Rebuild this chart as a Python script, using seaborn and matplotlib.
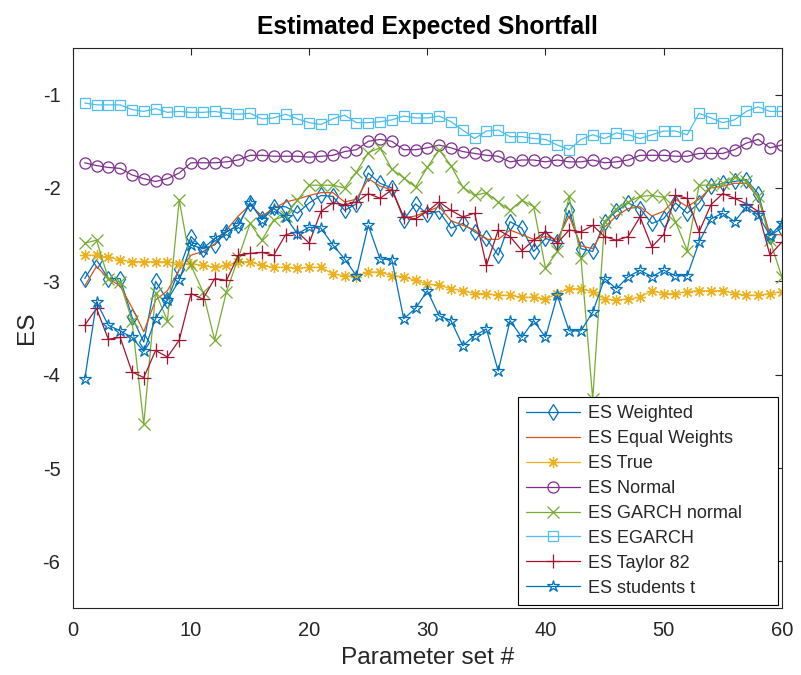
import numpy as np
import pandas as pd
import matplotlib
matplotlib.use("Agg")
import matplotlib.pyplot as plt
import seaborn as sns

# Data (60 parameter sets)
param_set = list(range(1, 61))

es_weighted = [-2.97, -2.77, -2.97, -2.97, -3.38, -3.65, -3.00, -3.20, -2.87, -2.52,
               -2.65, -2.61, -2.47, -2.40, -2.16, -2.33, -2.20, -2.20, -2.27, -2.16,
               -2.08, -2.09, -2.24, -2.17, -1.84, -1.95, -2.00, -2.34, -2.17, -2.28,
               -2.25, -2.43, -2.38, -2.47, -2.54, -2.72, -2.36, -2.43, -2.68, -2.54,
               -2.58, -2.24, -2.65, -2.68, -2.36, -2.25, -2.16, -2.22, -2.38, -2.33,
               -2.16, -2.27, -2.16, -1.98, -1.95, -1.93, -1.91, -2.06, -2.51, -2.43]

es_equal = [-3.05, -2.84, -2.97, -3.05, -3.28, -3.54, -3.20, -3.10, -2.88, -2.72,
            -2.68, -2.60, -2.45, -2.30, -2.18, -2.30, -2.22, -2.15, -2.12, -2.08,
            -2.05, -2.05, -2.15, -2.12, -1.90, -1.98, -2.02, -2.32, -2.30, -2.25,
            -2.20, -2.35, -2.40, -2.45, -2.55, -2.55, -2.45, -2.50, -2.55, -2.52,
            -2.55, -2.30, -2.62, -2.65, -2.42, -2.30, -2.22, -2.20, -2.30, -2.25,
            -2.12, -2.20, -2.12, -2.00, -1.98, -1.95, -1.95, -2.10, -2.50, -2.50]

es_true = [-2.72, -2.72, -2.74, -2.77, -2.79, -2.79, -2.79, -2.79, -2.81, -2.81,
           -2.83, -2.85, -2.83, -2.79, -2.79, -2.83, -2.85, -2.85, -2.86, -2.85,
           -2.85, -2.92, -2.94, -2.95, -2.90, -2.90, -2.94, -2.95, -2.99, -3.03,
           -3.04, -3.08, -3.10, -3.13, -3.13, -3.15, -3.15, -3.17, -3.17, -3.19,
           -3.13, -3.08, -3.08, -3.11, -3.19, -3.20, -3.19, -3.17, -3.10, -3.13,
           -3.13, -3.11, -3.10, -3.10, -3.10, -3.13, -3.15, -3.15, -3.13, -3.11]

es_normal = [-1.73, -1.76, -1.78, -1.79, -1.86, -1.90, -1.93, -1.90, -1.84, -1.73,
             -1.73, -1.73, -1.72, -1.70, -1.65, -1.65, -1.66, -1.66, -1.66, -1.67,
             -1.66, -1.65, -1.61, -1.59, -1.50, -1.48, -1.50, -1.59, -1.59, -1.57,
             -1.54, -1.57, -1.61, -1.63, -1.65, -1.66, -1.72, -1.70, -1.70, -1.72,
             -1.70, -1.72, -1.72, -1.70, -1.73, -1.72, -1.70, -1.65, -1.65, -1.65,
             -1.66, -1.66, -1.63, -1.63, -1.63, -1.59, -1.52, -1.48, -1.57, -1.54]

es_garch = [-2.59, -2.56, -2.97, -3.01, -3.42, -4.53, -3.12, -3.42, -2.13, -2.83,
            -3.11, -3.63, -3.11, -2.75, -2.38, -2.56, -2.34, -2.30, -2.13, -1.97,
            -1.97, -1.97, -2.00, -1.83, -1.62, -1.57, -1.80, -1.89, -1.99, -1.78,
            -1.59, -1.76, -1.99, -2.08, -2.05, -2.15, -2.24, -2.13, -2.20, -2.86,
            -2.68, -2.09, -2.75, -4.26, -2.36, -2.22, -2.15, -2.09, -2.08, -2.10,
            -2.36, -2.67, -1.97, -1.97, -1.95, -1.88, -1.93, -2.09, -2.56, -2.95]

es_egarch = [-1.09, -1.11, -1.11, -1.11, -1.16, -1.18, -1.15, -1.19, -1.18, -1.19,
             -1.19, -1.18, -1.20, -1.21, -1.20, -1.26, -1.25, -1.21, -1.26, -1.30,
             -1.32, -1.26, -1.22, -1.30, -1.30, -1.29, -1.27, -1.23, -1.25, -1.25,
             -1.23, -1.29, -1.38, -1.47, -1.39, -1.38, -1.45, -1.45, -1.47, -1.48,
             -1.54, -1.59, -1.48, -1.43, -1.47, -1.41, -1.43, -1.47, -1.43, -1.39,
             -1.39, -1.43, -1.20, -1.25, -1.30, -1.27, -1.18, -1.13, -1.18, -1.18]

es_taylor = [-3.47, -3.29, -3.62, -3.60, -3.97, -4.03, -3.74, -3.81, -3.63, -3.13,
             -3.19, -2.97, -2.99, -2.72, -2.70, -2.69, -2.72, -2.50, -2.47, -2.59,
             -2.25, -2.16, -2.18, -2.15, -2.06, -2.11, -2.02, -2.31, -2.33, -2.25,
             -2.15, -2.24, -2.31, -2.27, -2.83, -2.45, -2.52, -2.67, -2.56, -2.47,
             -2.59, -2.45, -2.47, -2.40, -2.52, -2.56, -2.52, -2.31, -2.63, -2.50,
             -2.08, -2.11, -2.47, -2.18, -2.06, -2.11, -2.17, -2.25, -2.72, -2.58]

es_students = [-4.05, -3.22, -3.47, -3.53, -3.60, -3.75, -3.40, -3.20, -2.99, -2.61,
               -2.65, -2.54, -2.47, -2.40, -2.16, -2.34, -2.22, -2.31, -2.49, -2.42,
               -2.43, -2.61, -2.76, -2.94, -2.40, -2.76, -2.77, -3.40, -3.29, -3.10,
               -3.37, -3.42, -3.69, -3.58, -3.51, -3.96, -3.42, -3.60, -3.42, -3.60,
               -3.15, -3.53, -3.53, -3.33, -2.97, -3.08, -2.95, -2.88, -2.95, -2.88,
               -2.94, -2.94, -2.58, -2.33, -2.27, -2.36, -2.20, -2.29, -2.51, -2.38]

series_names = ["ES Weighted", "ES Equal Weights", "ES True", "ES Normal",
                "ES GARCH normal", "ES EGARCH", "ES Taylor 82", "ES students t"]
series_values = [es_weighted, es_equal, es_true, es_normal,
                 es_garch, es_egarch, es_taylor, es_students]

# MATLAB default colour order
colors = ["#0072BD", "#D95319", "#EDB120", "#7E2F8E",
          "#77AC30", "#4DBEEE", "#A2142F", "#0072BD"]
markers = ["d", None, (8, 2, 0), "o", "x", "s", "+", "*"]
msizes = [8, 0, 8, 8, 8, 7, 10, 9]

sns.set_style("white")
plt.rcParams["font.family"] = ["Liberation Sans", "DejaVu Sans"]
plt.rcParams["axes.unicode_minus"] = False

fig = plt.figure(figsize=(8.01, 6.75), dpi=100)
ax = fig.add_axes([0.091, 0.099, 0.885, 0.830])

for name, vals, c, m, ms in zip(series_names, series_values, colors, markers, msizes):
    df = pd.DataFrame({"Parameter set #": param_set, "ES": vals})
    sns.lineplot(data=df, x="Parameter set #", y="ES", ax=ax, color=c,
                 marker=m, markersize=ms, markerfacecolor="none",
                 markeredgecolor=c, markeredgewidth=0.9, linewidth=0.9,
                 label=name)

ax.set_xlim(0, 60)
ax.set_ylim(-6.5, -0.5)
ax.set_xticks(range(0, 61, 10))
ax.set_yticks(range(-6, 0))

axis_col = "#262626"
for sp in ax.spines.values():
    sp.set_visible(True)
    sp.set_color(axis_col)
    sp.set_linewidth(0.8)
ax.tick_params(direction="in", top=True, right=True, length=5, width=0.8,
               colors=axis_col, labelsize=14.5, pad=9)

ax.set_title("Estimated Expected Shortfall", fontsize=17.7, fontweight="bold",
             color="black", pad=10)
ax.set_xlabel("Parameter set #", fontsize=17.6, color=axis_col, labelpad=5)
ax.set_ylabel("ES", fontsize=17.6, color=axis_col, labelpad=3)

# MATLAB-style legend: fixed-width box, entries left aligned
leg = ax.legend(loc="lower left", bbox_to_anchor=(0.628, 0.006, 0.366, 0.3),
                mode="expand", borderaxespad=0, fontsize=13, frameon=True,
                fancybox=False, framealpha=1, edgecolor="black",
                handlelength=3.0, labelspacing=0.44, borderpad=0.45,
                handletextpad=0.4)
leg.get_frame().set_linewidth(0.8)

fig.savefig("out.png", dpi=100)
